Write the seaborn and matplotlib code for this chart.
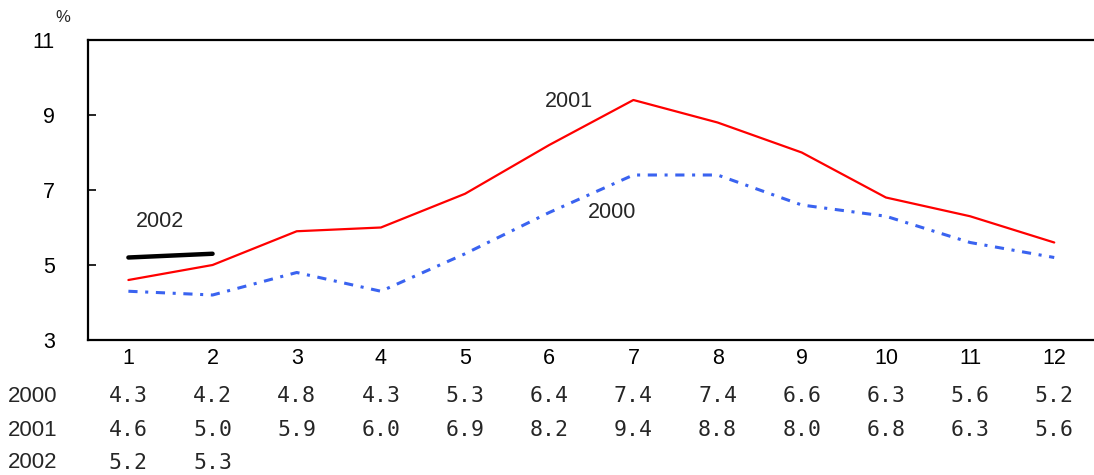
import matplotlib
matplotlib.use("Agg")
import matplotlib.pyplot as plt
import matplotlib.transforms as mtransforms
import seaborn as sns
import pandas as pd

# Monthly rates (%)
months = [1, 2, 3, 4, 5, 6, 7, 8, 9, 10, 11, 12]
y2000 = [4.3, 4.2, 4.8, 4.3, 5.3, 6.4, 7.4, 7.4, 6.6, 6.3, 5.6, 5.2]
y2001 = [4.6, 5.0, 5.9, 6.0, 6.9, 8.2, 9.4, 8.8, 8.0, 6.8, 6.3, 5.6]
months_2002 = [1, 2]
y2002 = [5.2, 5.3]
yticks = [3, 5, 7, 9, 11]
row_labels = ["2000", "2001", "2002"]

sns.set_theme(style="white")
plt.rcParams["font.family"] = ["Liberation Sans", "DejaVu Sans"]

fig = plt.figure(figsize=(10.94, 4.75), dpi=100)
ax = fig.add_axes([88 / 1094, 1 - 340 / 475, 1010 / 1094, 300 / 475])

df2000 = pd.DataFrame({"month": months, "value": y2000})
df2001 = pd.DataFrame({"month": months, "value": y2001})
df2002 = pd.DataFrame({"month": months_2002, "value": y2002})

sns.lineplot(data=df2000, x="month", y="value", ax=ax, color="#3a63f0",
             linewidth=2.2, linestyle=(0, (3, 2.5, 1, 2.5)))
sns.lineplot(data=df2001, x="month", y="value", ax=ax, color="#ff0000",
             linewidth=1.6)
sns.lineplot(data=df2002, x="month", y="value", ax=ax, color="#000000",
             linewidth=3.2, solid_capstyle="round")

ax.set_xlim(0.52, 12.52)
ax.set_ylim(3, 11)
ax.set_yticks(yticks)
ax.set_yticklabels([str(v) for v in yticks])
ax.set_xticks(months)
ax.set_xticklabels([str(m) for m in months])
ax.set_xlabel("")
ax.set_ylabel("")

for side in ["left", "top", "bottom"]:
    ax.spines[side].set_visible(True)
    ax.spines[side].set_color("black")
    ax.spines[side].set_linewidth(1.6)
ax.spines["right"].set_visible(False)

ax.tick_params(axis="y", which="both", direction="in", length=6, width=1.2,
               left=True, labelsize=15.5, pad=24, colors="black")
ax.tick_params(axis="x", which="both", length=0, labelsize=15.5, pad=6,
               colors="black")
for lab in ax.get_yticklabels():
    lab.set_horizontalalignment("right")

# Series labels
ax.text(1.38, 6.15, "2002", fontsize=15.5, ha="center", va="center")
ax.text(6.23, 9.37, "2001", fontsize=15.5, ha="center", va="center")
ax.text(6.75, 6.41, "2000", fontsize=15.5, ha="center", va="center")

# Unit label
fig.text(63 / 1094, 1 - 18 / 475, "%", fontsize=12, ha="center", va="center")

# Data table under the axis
trans = mtransforms.blended_transform_factory(ax.transData, fig.transFigure)
rows_y = [396, 430, 463]
for label, vals, xs, ypx in zip(row_labels, [y2000, y2001, y2002],
                                [months, months, months_2002], rows_y):
    fy = 1 - ypx / 475
    fig.text(8 / 1094, fy, label, fontsize=16, ha="left", va="center")
    for x, v in zip(xs, vals):
        ax.text(x, fy, f"{v:.1f}", transform=trans, fontsize=15.5,
                family=["DejaVu Sans Mono"], ha="center", va="center",
                clip_on=False)

fig.savefig("out.png", dpi=100)
